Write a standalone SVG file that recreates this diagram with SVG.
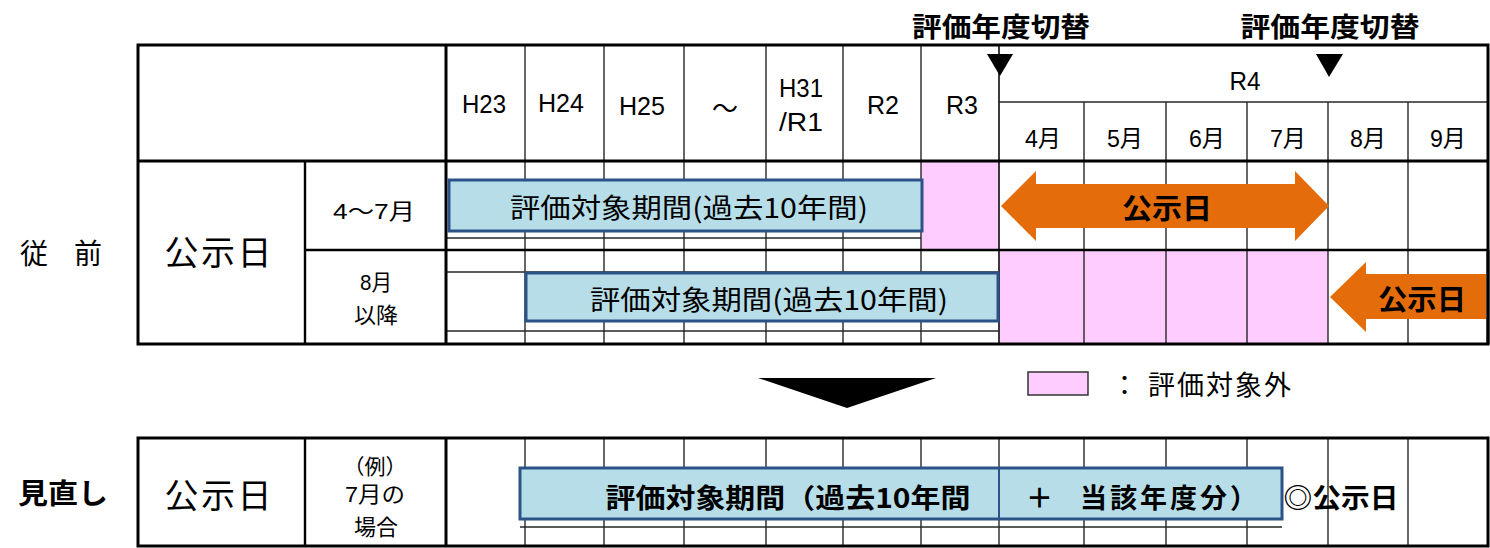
<svg xmlns="http://www.w3.org/2000/svg" width="1490" height="548" viewBox="0 0 1490 548">
<style>
.t{font-family:"Liberation Sans","Noto Sans CJK JP",sans-serif;fill:#000;dominant-baseline:central;text-anchor:middle}
.j{font-family:"Noto Sans CJK JP","Liberation Sans",sans-serif;fill:#000;dominant-baseline:central;text-anchor:middle}
.b{font-weight:bold}
.thick{stroke:#000;stroke-width:3;fill:none}
.mid{stroke:#000;stroke-width:2.4;fill:none}
.thin{stroke:#262626;stroke-width:1.4;fill:none}
.pink{fill:#ffccff}
.blue{fill:#b7dee8;stroke:#2b5388;stroke-width:3}
.orange{fill:#e46c0a}
</style>

<g id="pink-cells">
<rect class="pink" x="921" y="161" width="78" height="89"/>
<rect class="pink" x="999" y="250" width="329" height="94"/>
</g>

<g id="grid-top">
<line class="thin" x1="525" y1="45" x2="525" y2="344"/>
<line class="thin" x1="604" y1="45" x2="604" y2="344"/>
<line class="thin" x1="684" y1="45" x2="684" y2="344"/>
<line class="thin" x1="766" y1="45" x2="766" y2="344"/>
<line class="thin" x1="843" y1="45" x2="843" y2="344"/>
<line class="thin" x1="921" y1="45" x2="921" y2="344"/>
<line class="thin" x1="999" y1="45" x2="999" y2="344" style="stroke-width:1.8"/>
<line class="thin" x1="1084" y1="102" x2="1084" y2="344"/>
<line class="thin" x1="1166" y1="102" x2="1166" y2="344"/>
<line class="thin" x1="1247" y1="102" x2="1247" y2="344"/>
<line class="thin" x1="1328" y1="102" x2="1328" y2="344"/>
<line class="thin" x1="1408" y1="102" x2="1408" y2="344"/>
<line class="thin" x1="999" y1="102" x2="1488" y2="102"/>
<line class="thin" x1="446" y1="238" x2="921" y2="238"/>
<line class="thin" x1="446" y1="272" x2="999" y2="272"/>
<line class="thin" x1="446" y1="331" x2="999" y2="331"/>
<line class="mid" x1="305" y1="250" x2="1488" y2="250"/>
<line class="mid" x1="305" y1="161" x2="305" y2="344"/>
<line class="thick" x1="138" y1="161" x2="1488" y2="161"/>
<line class="thick" x1="446" y1="45" x2="446" y2="344"/>
<rect class="thick" x="138" y="45" width="1350" height="299"/>
</g>

<g id="header-texts">
<text class="t" x="484" y="104" font-size="26" textLength="44" lengthAdjust="spacingAndGlyphs">H23</text>
<text class="t" x="561" y="103" font-size="26" textLength="46" lengthAdjust="spacingAndGlyphs">H24</text>
<text class="t" x="642" y="106" font-size="26" textLength="46" lengthAdjust="spacingAndGlyphs">H25</text>
<text class="j" x="725" y="106" font-size="26">～</text>
<text class="t" x="801" y="88" font-size="26" textLength="44" lengthAdjust="spacingAndGlyphs">H31</text>
<text class="t" x="801" y="122" font-size="26" textLength="44" lengthAdjust="spacingAndGlyphs">/R1</text>
<text class="t" x="883" y="105" font-size="26" textLength="32" lengthAdjust="spacingAndGlyphs">R2</text>
<text class="t" x="962" y="105" font-size="26" textLength="32" lengthAdjust="spacingAndGlyphs">R3</text>
<text class="t" x="1245" y="81" font-size="26" textLength="31" lengthAdjust="spacingAndGlyphs">R4</text>
<text class="t" x="1043" y="138" font-size="24" textLength="36" lengthAdjust="spacingAndGlyphs">4月</text>
<text class="t" x="1125" y="138" font-size="24" textLength="36" lengthAdjust="spacingAndGlyphs">5月</text>
<text class="t" x="1207" y="138" font-size="24" textLength="36" lengthAdjust="spacingAndGlyphs">6月</text>
<text class="t" x="1288" y="138" font-size="24" textLength="36" lengthAdjust="spacingAndGlyphs">7月</text>
<text class="t" x="1368" y="138" font-size="24" textLength="36" lengthAdjust="spacingAndGlyphs">8月</text>
<text class="t" x="1448" y="138" font-size="24" textLength="36" lengthAdjust="spacingAndGlyphs">9月</text>
</g>

<g id="switch-markers">
<text class="j b" x="1001" y="25" font-size="27" textLength="178" lengthAdjust="spacingAndGlyphs">評価年度切替</text>
<text class="j b" x="1330" y="25" font-size="27" textLength="179" lengthAdjust="spacingAndGlyphs">評価年度切替</text>
<polygon points="987,54 1013,54 1000,76" fill="#000"/>
<polygon points="1316,54 1343,54 1329,77" fill="#000"/>
</g>

<g id="row-labels-before">
<text class="j" x="61" y="252" font-size="28" textLength="82" lengthAdjust="spacing">従 前</text>
<text class="j" x="218" y="250" font-size="34" textLength="107" lengthAdjust="spacing">公示日</text>
<text class="t" x="374" y="211" font-size="22" textLength="82" lengthAdjust="spacingAndGlyphs">4～7月</text>
<text class="t" x="376" y="282" font-size="22" textLength="32" lengthAdjust="spacingAndGlyphs">8月</text>
<text class="j" x="376" y="313" font-size="22">以降</text>
</g>

<g id="period-row1">
<rect class="blue" x="449" y="180" width="473" height="51"/>
<text class="j" x="689" y="206" font-size="27" textLength="358" lengthAdjust="spacingAndGlyphs">評価対象期間(過去10年間)</text>
</g>

<g id="period-row2">
<rect class="blue" x="526" y="273" width="472" height="48"/>
<text class="j" x="769" y="298" font-size="27" textLength="358" lengthAdjust="spacingAndGlyphs">評価対象期間(過去10年間)</text>
</g>

<g id="notice-arrow-row1">
<polygon class="orange" points="1001,206 1036,171 1036,184 1295,184 1295,171 1329,206 1295,241 1295,228 1036,228 1036,241"/>
<text class="j b" x="1167" y="207" font-size="28" textLength="90" lengthAdjust="spacingAndGlyphs">公示日</text>
</g>

<g id="notice-arrow-row2">
<polygon class="orange" points="1330,297 1366,262 1366,274 1486,274 1486,319 1366,319 1366,332"/>
<text class="j b" x="1422" y="298" font-size="28" textLength="88" lengthAdjust="spacingAndGlyphs">公示日</text>
<line class="thick" x1="1488" y1="250" x2="1488" y2="344"/>
</g>

<g id="transition-arrow">
<polygon points="758,378 936,378 847,408" fill="#000"/>
</g>

<g id="legend">
<rect x="1028" y="372" width="60" height="23" fill="#ffccff" stroke="#333" stroke-width="1.5"/>
<text class="j" x="1111" y="383" font-size="27" style="text-anchor:start">：<tspan dx="10" letter-spacing="2">評価対象外</tspan></text>
</g>

<g id="grid-bottom">
<line class="thin" x1="525" y1="438" x2="525" y2="546"/>
<line class="thin" x1="604" y1="438" x2="604" y2="546"/>
<line class="thin" x1="684" y1="438" x2="684" y2="546"/>
<line class="thin" x1="766" y1="438" x2="766" y2="546"/>
<line class="thin" x1="843" y1="438" x2="843" y2="546"/>
<line class="thin" x1="921" y1="438" x2="921" y2="546"/>
<line class="thin" x1="999" y1="438" x2="999" y2="546"/>
<line class="thin" x1="1084" y1="438" x2="1084" y2="546"/>
<line class="thin" x1="1166" y1="438" x2="1166" y2="546"/>
<line class="thin" x1="1247" y1="438" x2="1247" y2="546"/>
<line class="thin" x1="1328" y1="438" x2="1328" y2="546"/>
<line class="thin" x1="1408" y1="438" x2="1408" y2="546"/>
<line class="thin" x1="520" y1="469" x2="1282" y2="469"/>
<line class="thin" x1="520" y1="527" x2="1282" y2="527"/>
<line class="mid" x1="305" y1="438" x2="305" y2="546"/>
<line class="thick" x1="446" y1="438" x2="446" y2="546"/>
<rect class="thick" x="138" y="438" width="1350" height="108"/>
</g>

<g id="row-labels-after">
<text class="j b" x="63" y="492" font-size="28" textLength="90" lengthAdjust="spacingAndGlyphs">見直し</text>
<text class="j" x="218" y="493" font-size="34" textLength="107" lengthAdjust="spacing">公示日</text>
<text class="j" x="375" y="465" font-size="21">（例）</text>
<text class="t" x="375" y="494" font-size="22" textLength="60" lengthAdjust="spacingAndGlyphs">7月の</text>
<text class="j" x="376" y="525" font-size="22">場合</text>
</g>

<g id="period-after">
<rect class="blue" x="520" y="468" width="762" height="51"/>
<line x1="999" y1="468" x2="999" y2="519" stroke="#2b5388" stroke-width="2"/>
<text class="j b" x="788" y="496" font-size="27" textLength="365" lengthAdjust="spacingAndGlyphs">評価対象期間（過去10年間</text>
<text class="j b" x="1026" y="496" font-size="27" style="text-anchor:start">＋　<tspan letter-spacing="3">当該年度分）</tspan></text>
<text class="j b" x="1341" y="496" font-size="27" textLength="115" lengthAdjust="spacingAndGlyphs">◎公示日</text>
</g>
</svg>
